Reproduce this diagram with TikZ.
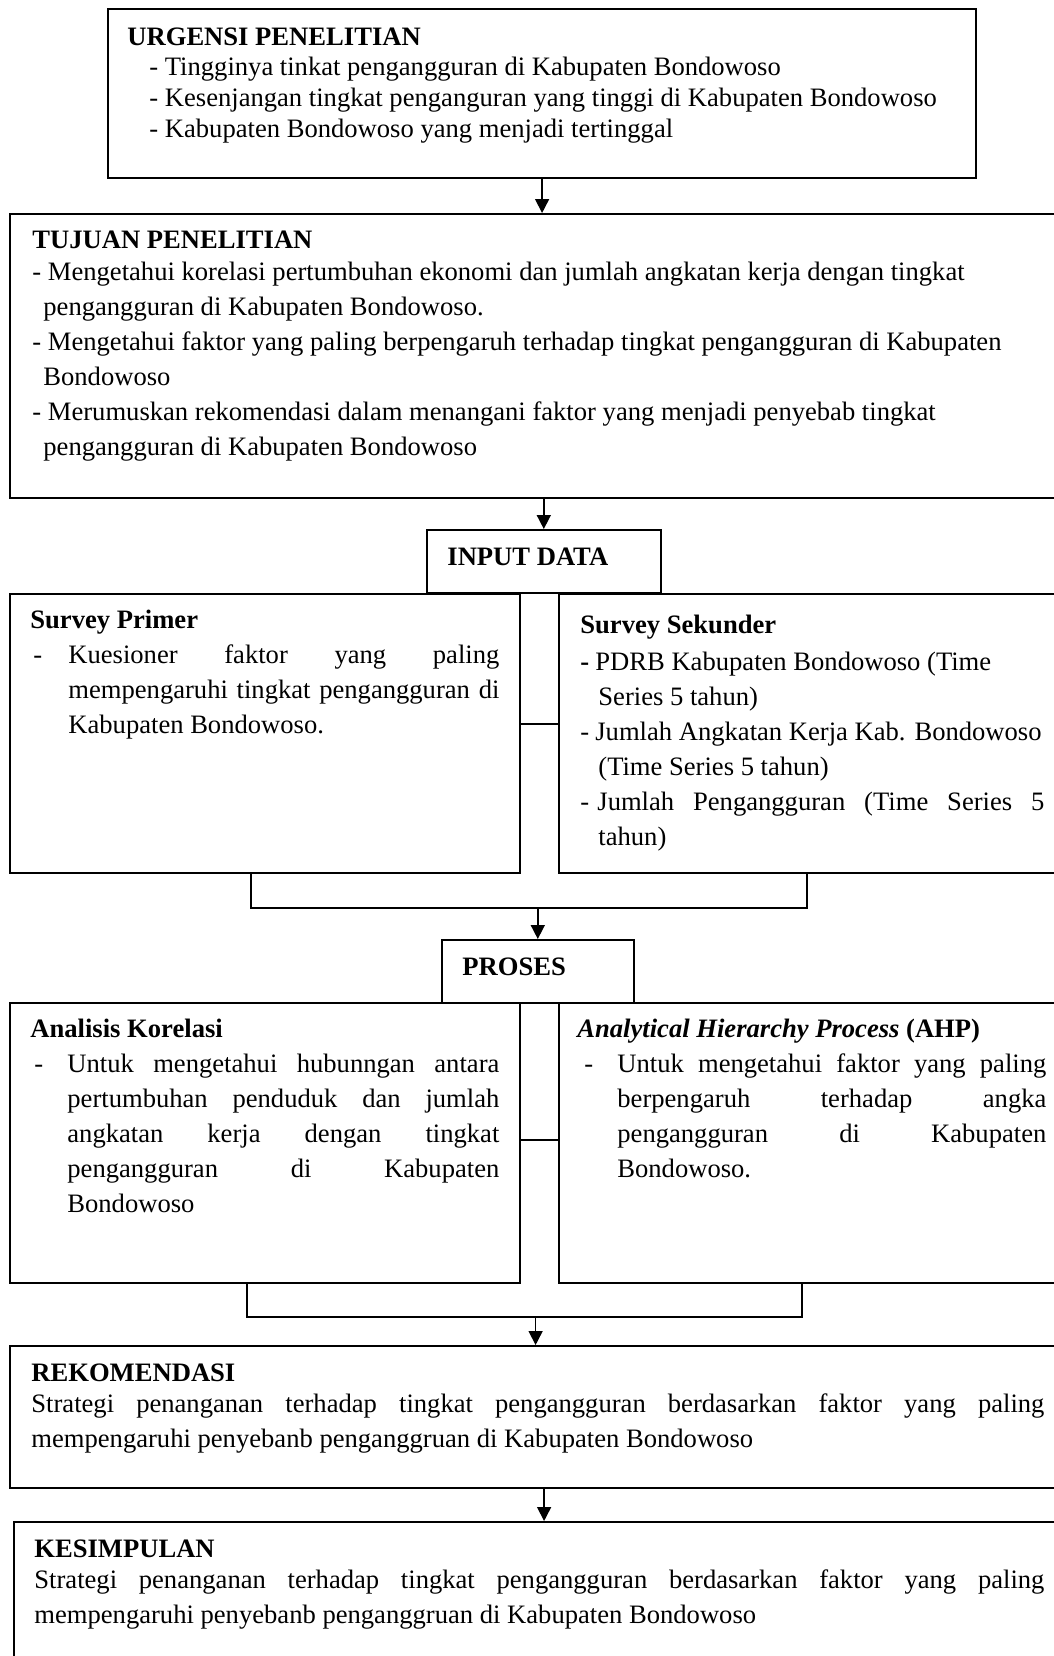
\documentclass[tikz,border=0pt]{standalone}
\usepackage{fontspec}
\setmainfont{Liberation Serif}
\usetikzlibrary{arrows.meta}

\begin{document}
\fontsize{13.3}{17.5}\selectfont
\begin{tikzpicture}[x=0.5pt, y=-0.5pt,
  box/.style={draw, line width=1.1pt, anchor=north west, inner sep=0pt},
  sub/.style={draw, line width=0.8pt, anchor=north west, inner sep=0pt},
  head/.style={anchor=base west, inner sep=0pt, font=\bfseries},
  body/.style={anchor=base west, inner sep=0pt, align=justify},
  link/.style={line width=0.8pt},
  arr/.style={line width=0.8pt, -{Triangle[length=7pt, width=7pt]}}]
\clip (0,0) rectangle (1054,1656);

% kotak
\node[box, minimum width=434pt, minimum height=84.5pt] (urg) at (107,8) {};
\node[box, minimum width=525.5pt, minimum height=142pt] (tuj) at (9,213) {};
\node[sub, minimum width=117pt, minimum height=31.5pt] (inp) at (426,529) {};
\node[sub, minimum width=255pt, minimum height=139.5pt] (pri) at (9,593) {};
\node[sub, minimum width=251pt, minimum height=139.5pt] (sek) at (558,593) {};
\node[sub, minimum width=96pt, minimum height=31.5pt] (pro) at (441,939) {};
\node[sub, minimum width=255pt, minimum height=140pt] (ana) at (9,1002) {};
\node[sub, minimum width=251pt, minimum height=140pt] (ahp) at (558,1002) {};
\node[box, minimum width=525.5pt, minimum height=71pt] (rek) at (9,1345) {};
\node[box, minimum width=530pt, minimum height=100pt] (kes) at (13,1521) {};

% teks
\node[head] (urgh) at (127,45) {URGENSI PENELITIAN};
\node[body, align=flush left, text width=420pt, font=\fontsize{13.3}{15.7}\selectfont] (urgb) at (149,75)
  {- Tingginya tinkat pengangguran di Kabupaten Bondowoso\\
   - Kesenjangan tingkat penganguran yang tinggi di Kabupaten Bondowoso\\
   - Kabupaten Bondowoso yang menjadi tertinggal};

\node[head] (tujh) at (32,248) {TUJUAN PENELITIAN};
\node[body, align=flush left, text width=505pt] (tujb) at (32,280)
  {\hangindent=5.5pt\hangafter=1 - Mengetahui korelasi pertumbuhan ekonomi dan jumlah angkatan kerja dengan tingkat\newline pengangguran di Kabupaten Bondowoso.\par
   \hangindent=5.5pt\hangafter=1 - Mengetahui faktor yang paling berpengaruh terhadap tingkat pengangguran di Kabupaten\newline Bondowoso\par
   \hangindent=5.5pt\hangafter=1 - Merumuskan rekomendasi dalam menangani faktor yang menjadi penyebab tingkat\newline pengangguran di Kabupaten Bondowoso\par};

\node[head] (inph) at (447,565) {INPUT DATA};

\node[head] (prih) at (30,628) {Survey Primer};
\node[body, text width=233pt] (prib) at (33,663)
  {\hangindent=17.5pt\hangafter=1\makebox[17.5pt][l]{-}Kuesioner faktor yang paling\linebreak mempengaruhi tingkat pengangguran di\linebreak Kabupaten Bondowoso.\par};

\node[head] (sekh) at (580,633) {Survey Sekunder};
\node[body, text width=232pt] (sekb) at (580,670)
  {\hangindent=9pt\hangafter=1\makebox[7.5pt][l]{\bfseries -}PDRB Kabupaten Bondowoso (Time\newline Series 5 tahun)\par
   \hangindent=9pt\hangafter=1\makebox[7.5pt][l]{-}Jumlah Angkatan Kerja Kab. Bondowoso\newline (Time Series 5 tahun)\par
   \hangindent=9pt\hangafter=1\makebox[8.5pt][l]{-}Jumlah Pengangguran (Time Series 5\linebreak tahun)\par};

\node[head] (proh) at (462,975) {PROSES};

\node[head] (anah) at (30,1037) {Analisis Korelasi};
\node[body, text width=232.5pt] (anab) at (34,1072)
  {\hangindent=16.5pt\hangafter=1\makebox[16.5pt][l]{-}Untuk mengetahui hubunngan antara\linebreak pertumbuhan penduduk dan jumlah\linebreak angkatan kerja dengan tingkat\linebreak pengangguran di Kabupaten\linebreak Bondowoso\par};

\node[head] (ahph) at (577,1037) {\itshape Analytical Hierarchy Process\upshape{} (AHP)};
\node[body, text width=231pt] (ahpb) at (584,1072)
  {\hangindent=16.5pt\hangafter=1\makebox[16.5pt][l]{-}Untuk mengetahui faktor yang paling\linebreak berpengaruh terhadap angka\linebreak pengangguran di Kabupaten\linebreak Bondowoso.\par};

\node[head] (rekh) at (31,1381) {REKOMENDASI};
\node[body, text width=506.5pt] (rekb) at (31,1412)
  {Strategi penanganan terhadap tingkat pengangguran berdasarkan faktor yang paling\linebreak mempengaruhi penyebanb penganggruan di Kabupaten Bondowoso\par};

\node[head] (kesh) at (34,1557) {KESIMPULAN};
\node[body, text width=505pt] (kesb) at (34,1588)
  {Strategi penanganan terhadap tingkat pengangguran berdasarkan faktor yang paling\linebreak mempengaruhi penyebanb penganggruan di Kabupaten Bondowoso\par};

% garis
\coordinate (j1) at (251,908);
\coordinate (j2) at (807,908);
\coordinate (k1) at (247,1317);
\coordinate (k2) at (802,1317);

\draw[arr] (urg.south) -- (urg.south |- tuj.north);
\draw[arr] (inp.north |- tuj.south) -- (inp.north);
\draw[link] ([yshift=4.75pt]pri.east) -- ([yshift=4.75pt]sek.west);
\draw[link] (pri.south -| j1) -- (j1) -- (j2) -- (sek.south -| j2);
\draw[arr] (pro.north |- j1) -- (pro.north);
\draw[link] ([yshift=1.5pt]ana.east) -- ([yshift=1.5pt]ahp.west);
\draw[link] (ana.south -| k1) -- (k1) -- (k2) -- (ahp.south -| k2);
\draw[arr] (rek.north |- k1) -- (rek.north);
\draw[arr] (kes.north |- rek.south) -- (kes.north);
\end{tikzpicture}
\end{document}
